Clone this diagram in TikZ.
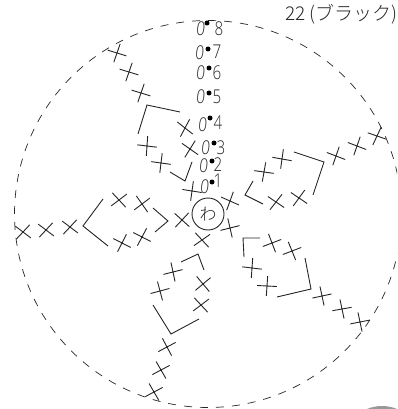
\documentclass[tikz,border=0pt]{standalone}
\usepackage{fontspec}
\setmainfont{Open Sans Light}
\newfontfamily\jpfont{Noto Sans CJK JP Light}
\tikzset{
 ink/.style={draw=black!85,line width=0.9pt},
 numtext/.style={font=\fontsize{19}{20}\selectfont,text=black!85,inner sep=0pt,xscale=0.8},
 zerotext/.style={font=\fontsize{19}{20}\selectfont,text=black!85,inner sep=0pt,xslant=0.1,xscale=0.8},
 bead/.style={circle,fill=black,inner sep=0pt,minimum size=5pt}
}
\newcommand{\xm}[4]{\draw[ink,shift={(#1,#2)}] (#3:9.8) -- (#3+180:9.8) (#4:9.8) -- (#4+180:9.8);}
\newcommand{\brk}[6]{\draw[ink] (#1,#2) -- (#3,#4) -- (#5,#6);}
\newcommand{\chn}[5]{%
 \node[zerotext] (z#1) at (#2,#3) {0};
 \node[bead] (b#1) at (#4,#5) {};}
\begin{document}
\begin{tikzpicture}[x=1pt,y=-1pt]
\useasboundingbox (0,0) rectangle (397,409);
\begin{scope}
\clip (0,0) rectangle (397,409);
\fill[black!40] (382,445) circle (39);
\draw[black!85,line width=0.7pt,dash pattern=on 8pt off 8pt] (208,214) circle (193.5);
\node[font=\jpfont\fontsize{19}{19}\selectfont,text=black!85,anchor=west,inner sep=0pt] (title) at (285,14) {22\hspace{3.5pt}(ブラック)};
\end{scope}
% ring
\node[draw=black!85,line width=0.9pt,circle,minimum size=32pt,inner sep=0pt,font=\jpfont\fontsize{17}{17}\selectfont,text=black!85] (ring) at (208,214) {わ};
% chain stitches
\chn{8}{201}{29}{207}{23}
\chn{7}{200}{53}{208}{49}
\chn{6}{201}{73}{209}{68}
\chn{5}{201}{97}{209}{93}
\chn{4}{203}{125}{210}{118}
\chn{3}{206}{148}{214}{143}
\chn{2}{204}{166}{212}{161}
\chn{1}{205}{187}{212}{182}
\node[numtext] (n8) at (219,29) {8};
\node[numtext] (n7) at (217,52) {7};
\node[numtext] (n6) at (217,73) {6};
\node[numtext] (n5) at (217,97) {5};
\node[numtext] (n4) at (218,123) {4};
\node[numtext] (n3) at (221,148) {3};
\node[numtext] (n2) at (218,165) {2};
\node[numtext] (n1) at (218,181) {1};
% top arm
\xm{117}{53}{17}{109}
\xm{129}{72}{17}{109}
\xm{141}{93}{17}{109}
\brk{138}{134}{147}{105}{180}{112}
\xm{185}{128}{38}{118}
\xm{147}{146}{7}{94}
\xm{161}{163}{8}{97}
\xm{190}{149}{35}{122}
\brk{192}{162}{185}{181}{170}{172}
\xm{192}{191}{9}{98}
% around the ring
\xm{182}{220}{42}{133}
\xm{230}{201}{24}{110}
\xm{230}{228}{-14}{77}
\xm{202}{240}{47}{145}
% left arm
\xm{23}{232}{37}{133}
\xm{46}{230}{37}{133}
\xm{70}{227}{37}{133}
\brk{103}{199}{83}{226}{108}{246}
\xm{119}{200}{47}{143}
\xm{142}{204}{-37}{55}
\xm{122}{243}{27}{117}
\xm{142}{237}{27}{118}
\brk{153}{208}{168}{221}{155}{232}
% upper right arm
\brk{253}{181}{245}{195}{263}{204}
\xm{264}{172}{8}{100}
\xm{282}{159}{10}{98}
\xm{276}{202}{34}{128}
\xm{299}{198}{34}{126}
\brk{294}{152}{324}{162}{313}{195}
\xm{336}{156}{21}{109}
\xm{357}{146}{21}{109}
\xm{377}{136}{19}{115}
% lower right arm
\brk{244}{257}{243}{238}{260}{238}
\xm{272}{243}{-21}{69}
\xm{292}{251}{-21}{68}
\xm{252}{268}{7}{94}
\xm{267}{286}{3}{94}
\brk{305}{258}{311}{289}{277}{297}
\xm{322}{296}{-12}{78}
\xm{342}{309}{-10}{78}
\xm{360}{322}{-11}{78}
% lower left arm
\brk{181}{262}{198}{254}{204}{270}
\xm{173}{272}{-14}{78}
\xm{160}{291}{-15}{75}
\xm{203}{284}{-40}{50}
\xm{201}{305}{-37}{47}
\brk{153}{305}{171}{334}{199}{319}
\xm{167}{347}{-28}{62}
\xm{161}{370}{-28}{60}
\xm{154}{392}{-28}{60}
\end{tikzpicture}
\end{document}
